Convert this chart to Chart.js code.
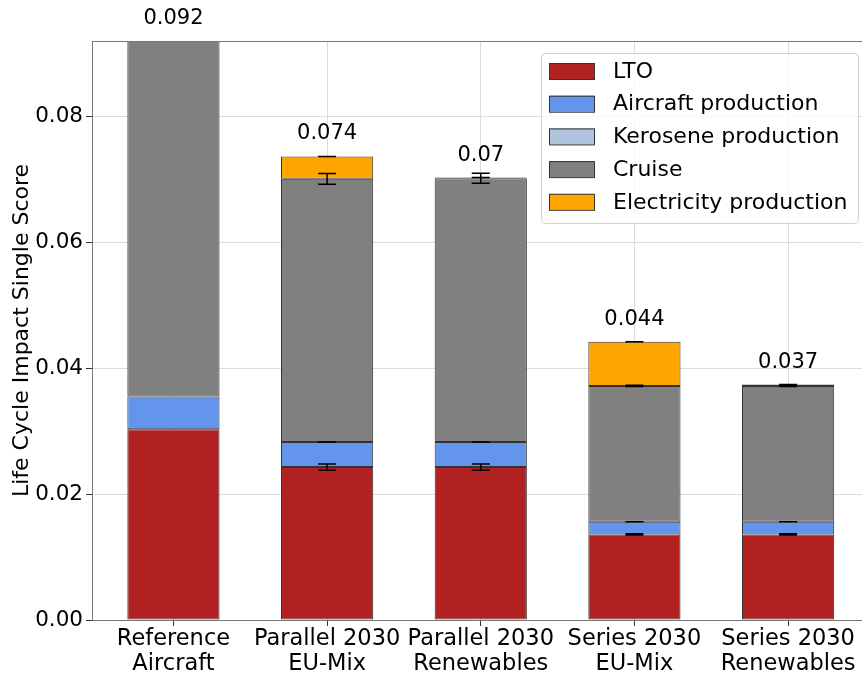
<!DOCTYPE html>
<html>
<head>
<meta charset="utf-8">
<script src="https://cdn.jsdelivr.net/npm/chart.js@4/dist/chart.umd.min.js"></script>
<style>
  html, body { margin: 0; padding: 0; background: #fff; overflow: hidden; }
  #wrap { position: absolute; left: 0; top: 0; width: 862px; height: 673px; }
</style>
</head>
<body>
<div id="wrap"><canvas id="c" width="862" height="673"></canvas></div>
<script>
// Scenario categories (two-line tick labels)
const categories = [
  ['Reference', 'Aircraft'],
  ['Parallel 2030', 'EU-Mix'],
  ['Parallel 2030', 'Renewables'],
  ['Series 2030', 'EU-Mix'],
  ['Series 2030', 'Renewables']
];

// Single-score contributions per life-cycle stage
const lto            = [0.0303, 0.0243, 0.0243, 0.0136, 0.0136];
const aircraftProd   = [0.0052, 0.0040, 0.0040, 0.0020, 0.0020];
const keroseneProd   = [0, 0, 0, 0, 0];
const cruise         = [0.0565, 0.0418, 0.0419, 0.0216, 0.0216];
const electricity    = [0, 0.00355, 0.0001, 0.0070, 0.0002];

// Half-width of the uncertainty bars at the top of each stage (null = none)
const ltoErr         = [null, 0.0005, 0.0005, 0.0001, 0.0001];
const aircraftErr    = [null, 0, 0, 0, 0];
const keroseneErr    = [null, null, null, null, null];
const cruiseErr      = [null, 0.00085, 0.0008, 0.0001, 0.0001];
const electricityErr = [null, 0, 0, 0, 0];

// Y axis ticks and range
const yTicks = [0, 0.02, 0.04, 0.06, 0.08];
const yMax = 0.092;

const FONT = "'DejaVu Sans', sans-serif";
const EDGE = '#333';

// bars sit at integer positions 0..n-1 on a linear x axis
const toPoints = arr => arr.map((v, j) => ({ x: j, y: v }));

const datasets = [
  { label: 'LTO', data: toPoints(lto), errors: ltoErr, backgroundColor: '#B22222' },
  { label: 'Aircraft production', data: toPoints(aircraftProd), errors: aircraftErr, backgroundColor: '#6495ED' },
  { label: 'Kerosene production', data: toPoints(keroseneProd), errors: keroseneErr, backgroundColor: '#B0C4DE' },
  { label: 'Cruise', data: toPoints(cruise), errors: cruiseErr, backgroundColor: '#808080' },
  { label: 'Electricity production', data: toPoints(electricity), errors: electricityErr, backgroundColor: '#FFA500' }
].map(d => Object.assign(d, {
  borderColor: EDGE,
  borderWidth: 1,
  borderSkipped: false,
  categoryPercentage: 1.0,
  barPercentage: 0.6
}));

// Error bars, frame, total labels and in-plot legend
const overlayPlugin = {
  id: 'overlay',
  afterDatasetsDraw(chart) {
    const ctx = chart.ctx;
    const ys = chart.scales.y;
    const xs = chart.scales.x;
    const area = chart.chartArea;
    const sums = categories.map(() => 0);

    ctx.save();
    ctx.strokeStyle = '#000';
    ctx.lineWidth = 1.5;
    chart.data.datasets.forEach((ds) => {
      ds.data.forEach((p, j) => {
        sums[j] += p.y;
        const err = ds.errors ? ds.errors[j] : null;
        if (err === null || err === undefined) return;
        const cx = xs.getPixelForValue(p.x);
        const yt = ys.getPixelForValue(sums[j] + err);
        const yb = ys.getPixelForValue(sums[j] - err);
        const cap = 9;
        ctx.beginPath();
        ctx.moveTo(cx, yt); ctx.lineTo(cx, yb);
        ctx.moveTo(cx - cap, yt); ctx.lineTo(cx + cap, yt);
        ctx.moveTo(cx - cap, yb); ctx.lineTo(cx + cap, yb);
        ctx.stroke();
      });
    });
    ctx.restore();

    // top frame line
    ctx.save();
    ctx.strokeStyle = '#777';
    ctx.lineWidth = 1;
    ctx.beginPath();
    ctx.moveTo(area.left, area.top + 0.5);
    ctx.lineTo(area.right, area.top + 0.5);
    ctx.stroke();
    ctx.restore();

    // totals above each stack
    ctx.save();
    ctx.fillStyle = '#000';
    ctx.font = '21px ' + FONT;
    ctx.textAlign = 'center';
    ctx.textBaseline = 'middle';
    sums.forEach((s, j) => {
      const txt = String(Number(s.toFixed(3)));
      ctx.fillText(txt, xs.getPixelForValue(j), ys.getPixelForValue(s) - 22.5);
    });
    ctx.restore();

    // legend box inside the plot, upper right
    ctx.save();
    const bx = 541, by = 53, boxW = 317, boxH = 170;
    ctx.fillStyle = 'rgba(255,255,255,0.8)';
    ctx.strokeStyle = '#d0d0d0';
    ctx.lineWidth = 1;
    ctx.beginPath();
    ctx.roundRect(bx + 0.5, by + 0.5, boxW, boxH, 4);
    ctx.fill();
    ctx.stroke();
    ctx.font = '22px ' + FONT;
    ctx.textAlign = 'left';
    ctx.textBaseline = 'middle';
    chart.data.datasets.forEach((ds, i) => {
      const cy = by + 18 + i * 32.7;
      ctx.fillStyle = ds.backgroundColor;
      ctx.fillRect(bx + 8, cy - 8, 45, 16);
      ctx.strokeStyle = EDGE;
      ctx.strokeRect(bx + 8.5, cy - 7.5, 45, 16);
      ctx.fillStyle = '#000';
      ctx.fillText(ds.label, bx + 72, cy + 1);
    });
    ctx.restore();
  }
};

new Chart(document.getElementById('c'), {
  type: 'bar',
  data: { datasets: datasets },
  options: {
    responsive: false,
    animation: false,
    layout: { padding: { top: 41, right: 0, left: 0, bottom: 0 } },
    plugins: { legend: { display: false }, tooltip: { enabled: false } },
    scales: {
      x: {
        type: 'linear',
        stacked: true,
        offset: false,
        min: -0.53,
        max: categories.length - 1 + 0.481,
        afterBuildTicks(scale) { scale.ticks = categories.map((c, j) => ({ value: j })); },
        grid: { offset: false, color: '#dcdcdc', tickColor: '#333', tickLength: 6, lineWidth: 1 },
        border: { color: '#777', width: 1 },
        ticks: {
          color: '#000',
          font: { family: FONT, size: 22.5, lineHeight: 1.1 },
          padding: 1,
          maxRotation: 0,
          autoSkip: false,
          callback: v => categories[v]
        },
        afterFit(scale) { scale.height = 53; }
      },
      y: {
        stacked: true,
        min: 0,
        max: yMax,
        afterBuildTicks(scale) { scale.ticks = yTicks.map(v => ({ value: v })); },
        grid: { color: '#dcdcdc', tickColor: '#333', tickLength: 6, lineWidth: 1 },
        border: { color: '#777', width: 1 },
        ticks: {
          color: '#000',
          font: { family: FONT, size: 21.5 },
          padding: 3,
          callback: v => Number(v).toFixed(2)
        },
        title: {
          display: true,
          text: 'Life Cycle Impact Single Score',
          color: '#000',
          font: { family: FONT, size: 22 },
          padding: { top: 9, bottom: 0 }
        },
        afterFit(scale) { scale.width = 92; }
      }
    }
  },
  plugins: [overlayPlugin]
});
</script>
</body>
</html>
